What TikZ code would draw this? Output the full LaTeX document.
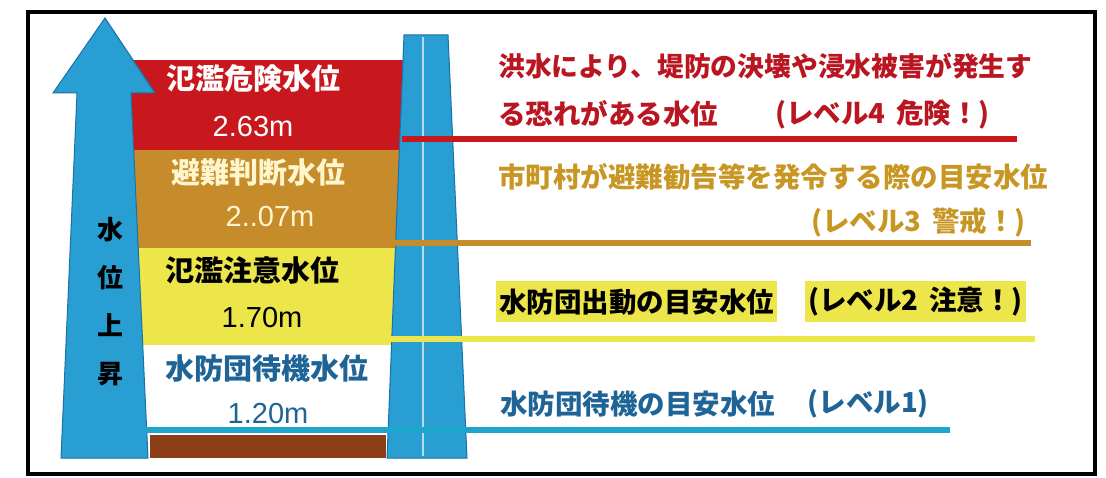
\documentclass[tikz,border=0pt]{standalone}
\usepackage{fontspec}
\newfontfamily\jpfont{Noto Sans CJK JP}
\newfontfamily\numfont{Liberation Sans}
\usetikzlibrary{positioning}

\definecolor{riverblue}{RGB}{40,158,210}
\definecolor{riveredge}{RGB}{28,112,168}
\definecolor{dangerred}{RGB}{200,24,30}
\definecolor{evacorange}{RGB}{198,140,44}
\definecolor{cautionyellow}{RGB}{236,230,74}
\definecolor{groundbrown}{RGB}{140,62,22}
\definecolor{standbycyan}{RGB}{28,166,204}
\definecolor{dangertext}{RGB}{186,22,34}
\definecolor{evactext}{RGB}{200,150,34}
\definecolor{standbytext}{RGB}{30,100,150}
\definecolor{creamtext}{RGB}{255,246,205}

\begin{document}
\begin{tikzpicture}[x=1pt, y=-1pt,
    bandname/.style={font=\jpfont\bfseries\fontsize{29}{29}\selectfont, inner sep=0pt},
    bandvalue/.style={font=\numfont\fontsize{29}{29}\selectfont, inner sep=0pt},
    notetext/.style={font=\jpfont\bfseries\fontsize{27.5}{27.5}\selectfont, inner sep=0pt},
    levelline/.style={line width=6.5pt},
    highlight/.style={fill=cautionyellow, inner xsep=3pt, inner ysep=0pt, minimum height=41pt}
]

\useasboundingbox[fill=white] (0,0) rectangle (1106,478);

% ==== Water level bands ====
\fill[dangerred] (100,60) rectangle (410,150);
\fill[evacorange] (100,150) rectangle (410,248);
\fill[cautionyellow] (100,248) rectangle (410,345);
\fill[groundbrown] (150,435) rectangle (386,458);

% ==== Levee pier and rising arrow ====
\filldraw[fill=riverblue, draw=riveredge, line width=1pt] (404,35) -- (448,35) -- (467,458) -- (387,458) -- cycle;
\draw[white!65!riverblue, line width=1.2pt] (423,37) -- (423,456);
\filldraw[fill=riverblue, draw=riveredge, line width=1pt] (105,18) -- (155,93) -- (131,93) -- (148,458) -- (61,458) -- (77,93) -- (53,93) -- cycle;

% ==== Level lines ====
\draw[levelline, dangerred] (402,139) -- (1017,139);
\draw[levelline, evacorange] (395,243) -- (1031,243);
\draw[levelline, cautionyellow] (390,339) -- (1035,339);
\draw[levelline, standbycyan] (146,430) -- (950,430);

% ==== Band labels ====
\node[bandname, text=white] (dangername) at (253,78) {氾濫危険水位};
\node[bandvalue, text=white] (dangervalue) at (253,127) {2.63m};
\node[bandname, text=creamtext] (evacname) at (258,173) {避難判断水位};
\node[bandvalue, text=creamtext] (evacvalue) at (270,217) {2..07m};
\node[bandname, text=black] (cautionname) at (252,270) {氾濫注意水位};
\node[bandvalue, text=black] (cautionvalue) at (262,318) {1.70m};
\node[bandname, text=standbytext] (standbyname) at (267,368) {水防団待機水位};
\node[bandvalue, text=standbytext] (standbyvalue) at (268,414) {1.20m};

\node[font=\jpfont\bfseries\fontsize{26}{48}\selectfont, align=center, inner sep=0pt] (risecaption) at (110,302) {水\\位\\上\\昇};

% ==== Level notes ====
\node[notetext, anchor=west, text=dangertext, font=\jpfont\bfseries\fontsize{26.8}{26.8}\selectfont] (dangernote) at (498,66) {洪水により、堤防の決壊や浸水被害が発生す};
\node[notetext, anchor=west, text=dangertext] (dangernotecont) at (498,114) {る恐れがある水位};
\node[notetext, anchor=east, text=dangertext] (dangerlevel) at (990,114) {(レベル4\hspace{0.4em}危険！)};

\node[notetext, anchor=west, text=evactext] (evacnote) at (498,177) {市町村が避難勧告等を発令する際の目安水位};
\node[notetext, anchor=east, text=evactext] (evaclevel) at (1026,223) {(レベル3\hspace{0.4em}警戒！)};

\node[notetext, highlight, anchor=west, text=black] (cautionnote) at (496,302) {水防団出動の目安水位};
\node[notetext, highlight, anchor=east, text=black] (cautionlevel) at (1026,302) {(レベル2\hspace{0.4em}注意！)};

\node[notetext, anchor=west, text=standbytext] (standbynote) at (500,404) {水防団待機の目安水位};
\node[notetext, anchor=east, text=standbytext] (standbylevel) at (929,404) {(レベル1)};

% ==== Frame ====
\draw[line width=4.5pt] (28,12) rectangle (1095,474);

\end{tikzpicture}
\end{document}
